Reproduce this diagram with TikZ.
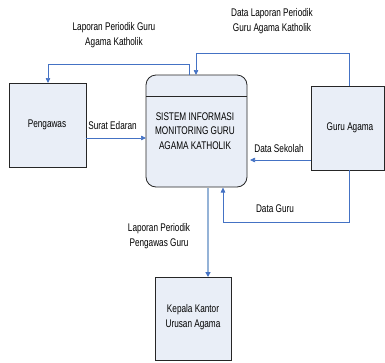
\documentclass[tikz,border=0pt]{standalone}
\usepackage{fontspec}
\setmainfont[FakeStretch=0.74]{Liberation Sans}
\usetikzlibrary{arrows.meta}
\definecolor{boxfill}{RGB}{233,238,247}
\definecolor{flow}{RGB}{68,114,196}
\definecolor{flowlight}{RGB}{149,179,215}
\begin{document}
\begin{tikzpicture}[x=1pt,y=-1pt,
  ent/.style={draw=black!85, fill=boxfill, line width=0.8pt},
  lbl/.style={font=\fontsize{11.1}{14.8}\selectfont, align=center, inner sep=0pt},
  flw/.style={draw=flow, line width=0.7pt, -{Triangle[width=4.5pt,length=5pt]}},
  flwl/.style={draw=flowlight, line width=1.4pt, -{Triangle[width=5pt,length=5pt,color=flow,fill=flow]}}
]
\useasboundingbox (0,0) rectangle (385,362);
% entities
\draw[ent] (9,83) rectangle (86,167);
\node[lbl] (peng) at (47,125) {Pengawas};
\draw[ent] (311,86) rectangle (384,170);
\node[lbl] (guru) at (350,128) {Guru Agama};
\draw[ent] (155,277) rectangle (231,360);
\node[lbl] (kep) at (193,317.5) {Kepala Kantor\\Urusan Agama};
% process
\draw[ent, rounded corners=10pt] (146,75) rectangle (247,187);
\draw[black!85, line width=0.8pt] (146,96) -- (247,96);
\node[lbl] (sis) at (195,131) {SISTEM INFORMASI\\MONITORING GURU\\AGAMA KATHOLIK};
% anchor coordinates
\coordinate (sT1) at (189,75);
\coordinate (sT2) at (196,75);
\coordinate (pT) at (48,83);
\coordinate (gT) at (349,86);
\coordinate (pR) at (86,138);
\coordinate (sL) at (146,138);
\coordinate (gL) at (311,160);
\coordinate (sR) at (250,160);
\coordinate (gB) at (349,170);
\coordinate (sB1) at (223,187.5);
\coordinate (sB2) at (208,187.5);
\coordinate (kT) at (208,277);
% flows
\draw[flw] (sT1) |- (48,64) -- (pT);
\draw[flw] (gT) |- (196,53) -- (sT2);
\draw[flw] (pR) -- (sL);
\draw[flw] (gL) -- (sR);
\draw[flw] (gB) |- (223,222) -- (sB1);
\draw[flwl] (sB2) -- (kT);
% labels
\node[lbl] (l1) at (114,35.5) {Laporan Periodik Guru\\Agama Katholik};
\node[lbl] (l2) at (272,21) {Data Laporan Periodik\\Guru Agama Katholik};
\node[lbl] (l3) at (112.5,126) {Surat Edaran};
\node[lbl] (l4) at (279,149) {Data Sekolah};
\node[lbl] (l5) at (275,209) {Data Guru};
\node[lbl] (l6) at (159,236.5) {Laporan Periodik\\Pengawas Guru};
\end{tikzpicture}
\end{document}
